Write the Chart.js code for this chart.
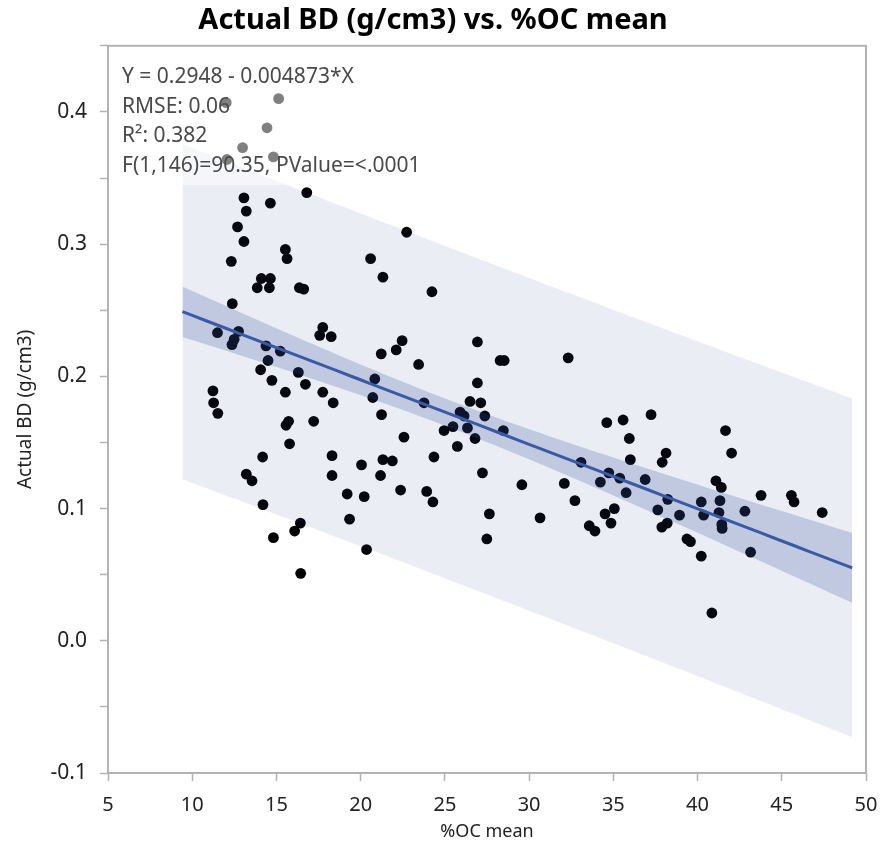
<!DOCTYPE html>
<html>
<head>
<meta charset="utf-8">
<script src="https://cdn.jsdelivr.net/npm/chart.js@4.4.0/dist/chart.umd.min.js"></script>
<style>
  html, body { margin: 0; padding: 0; background: #fff; }
</style>
</head>
<body>
<canvas id="myChart" width="881" height="850"></canvas>
<script>
// %OC mean (x) and actual bulk density (y)
const ocMean = [
  12.02, 15.13, 14.44, 12.99, 12.06, 14.82,
  13.07, 14.64, 16.80, 13.21, 12.69, 22.73, 13.07, 12.32, 15.53, 15.63,
  14.10, 14.64, 13.86, 14.58, 16.36, 16.62, 12.38, 11.50, 12.75, 12.36,
  12.49, 17.75, 17.57, 18.25, 14.38, 15.23, 14.50, 14.06, 14.73, 15.53,
  16.30, 16.72, 17.75, 18.37, 11.23, 11.27, 11.52, 15.72, 15.57, 17.21,
  15.78, 14.18, 18.30, 18.30, 13.21, 13.55, 14.20, 16.42, 16.08, 14.82,
  16.44, 20.59, 21.32, 24.23, 22.46, 22.11, 21.22, 23.44, 20.84, 20.72,
  21.24, 23.76, 25.90, 26.49, 22.57, 24.95, 25.48, 25.74, 26.34, 20.05,
  21.32, 21.88, 21.18, 24.35, 19.20, 20.21, 22.37, 23.92, 24.29, 19.34,
  20.35, 26.93, 28.28, 28.52, 32.32, 26.93, 27.13, 27.37, 26.79, 28.47,
  27.23, 29.57, 32.09, 32.72, 33.08, 27.64, 30.65, 27.49, 33.57, 33.91,
  34.51, 35.06, 34.86, 34.23, 34.73, 35.38, 35.76, 34.61, 35.58, 35.95,
  36.01, 37.24, 38.13, 37.90, 36.89, 38.23, 37.64, 38.93, 38.20, 37.88,
  39.37, 39.58, 40.22, 40.85, 41.66, 42.02, 41.09, 41.41, 40.22, 40.36,
  41.33, 41.27, 41.44, 41.46, 42.81, 43.15, 43.77, 45.57, 45.73, 47.40,
  26.14
];
const actualBD = [
  0.407, 0.410, 0.388, 0.373, 0.364, 0.366,
  0.335, 0.331, 0.339, 0.325, 0.313, 0.309, 0.302, 0.287, 0.296, 0.289,
  0.274, 0.274, 0.267, 0.267, 0.267, 0.266, 0.255, 0.233, 0.234, 0.224,
  0.228, 0.237, 0.231, 0.230, 0.223, 0.219, 0.212, 0.205, 0.197, 0.188,
  0.203, 0.194, 0.188, 0.180, 0.189, 0.180, 0.172, 0.166, 0.163, 0.166,
  0.149, 0.139, 0.140, 0.125, 0.126, 0.121, 0.103, 0.089, 0.083, 0.078,
  0.051, 0.289, 0.275, 0.264, 0.227, 0.220, 0.217, 0.209, 0.198, 0.184,
  0.171, 0.180, 0.173, 0.181, 0.154, 0.159, 0.162, 0.147, 0.161, 0.133,
  0.137, 0.136, 0.125, 0.139, 0.111, 0.109, 0.114, 0.113, 0.105, 0.092,
  0.069, 0.226, 0.212, 0.212, 0.214, 0.195, 0.180, 0.170, 0.153, 0.159,
  0.127, 0.118, 0.119, 0.106, 0.135, 0.096, 0.093, 0.077, 0.087, 0.083,
  0.096, 0.100, 0.089, 0.120, 0.127, 0.123, 0.112, 0.165, 0.167, 0.153,
  0.137, 0.171, 0.142, 0.135, 0.122, 0.107, 0.099, 0.095, 0.089, 0.086,
  0.077, 0.075, 0.064, 0.021, 0.159, 0.142, 0.121, 0.116, 0.105, 0.095,
  0.106, 0.097, 0.088, 0.085, 0.098, 0.067, 0.110, 0.110, 0.105, 0.097,
  0.170
];

// fit shown in the picture
const fitIntercept = 0.2948;
const fitSlope = -0.004873;
const statLines = [
  'Y = 0.2948 - 0.004873*X',
  'RMSE: 0.06',
  'R\u00b2: 0.382',
  'F(1,146)=90.35, PValue=<.0001'
];
// band settings (t * rmse, mean of x, Sxx, n)
const bandFrom = 9.42;
const bandTo = 49.18;
const tRmse = 0.1253;
const xMean = 25.2;
const sxx = 15200;
const nObs = 148;

const points = ocMean.map((x, i) => ({ x: x, y: actualBD[i] }));

let fitLine = [], ciUp = [], ciLo = [], piUp = [], piLo = [];
for (let k = 0; k <= 60; k++) {
  let x = bandFrom + (bandTo - bandFrom) * k / 60;
  let y = fitIntercept + fitSlope * x;
  let h = 1 / nObs + (x - xMean) * (x - xMean) / sxx;
  let ci = tRmse * Math.sqrt(h);
  let pi = tRmse * Math.sqrt(1 + h);
  fitLine.push({ x: x, y: y });
  ciUp.push({ x: x, y: y + ci });
  ciLo.push({ x: x, y: y - ci });
  piUp.push({ x: x, y: y + pi });
  piLo.push({ x: x, y: y - pi });
}

const fontFam = "'Noto Sans', 'DejaVu Sans', sans-serif";

const framePlugin = {
  id: 'frame',
  afterDatasetsDraw(chart) {
    const ctx = chart.ctx;
    // statistics box, half transparent white over the points
    ctx.save();
    ctx.fillStyle = 'rgba(255,255,255,0.5)';
    ctx.fillRect(115, 58, 318, 127);
    ctx.fillStyle = '#4a4a4a';
    ctx.font = '21px ' + fontFam;
    ctx.textBaseline = 'middle';
    ctx.textAlign = 'left';
    for (let i = 0; i < statLines.length; i++) {
      ctx.fillText(statLines[i], 122, 77 + i * 29.7);
    }
    ctx.restore();
  },
  afterDraw(chart) {
    const a = chart.chartArea;
    const ctx = chart.ctx;
    ctx.save();
    ctx.strokeStyle = '#b3b3b3';
    ctx.lineWidth = 2;
    ctx.strokeRect(a.left, a.top, a.right - a.left, a.bottom - a.top);
    ctx.restore();
  }
};

const ctx = document.getElementById('myChart');
new Chart(ctx, {
  type: 'scatter',
  data: {
    datasets: [
      {
        label: 'Actual BD',
        data: points,
        backgroundColor: '#000',
        borderWidth: 0,
        pointRadius: 5.4,
        order: 5
      },
      {
        type: 'line',
        data: piUp,
        borderWidth: 0,
        pointRadius: 0,
        fill: '+1',
        backgroundColor: 'rgba(45,75,152,0.1)',
        order: 4
      },
      {
        type: 'line',
        data: piLo,
        borderWidth: 0,
        pointRadius: 0,
        fill: false,
        order: 4
      },
      {
        type: 'line',
        data: ciUp,
        borderWidth: 0,
        pointRadius: 0,
        fill: '+1',
        backgroundColor: 'rgba(45,75,152,0.22)',
        order: 2
      },
      {
        type: 'line',
        data: ciLo,
        borderWidth: 0,
        pointRadius: 0,
        fill: false,
        order: 2
      },
      {
        type: 'line',
        data: fitLine,
        borderColor: '#3a5aa6',
        borderWidth: 3,
        pointRadius: 0,
        fill: false,
        order: 0
      }
    ]
  },
  options: {
    responsive: false,
    animation: false,
    devicePixelRatio: 1,
    layout: { padding: { left: 0, right: 15, top: 0, bottom: 0 } },
    plugins: {
      legend: { display: false },
      tooltip: { enabled: false },
      title: {
        display: true,
        text: 'Actual BD (g/cm3) vs. %OC mean',
        color: '#000',
        font: { family: fontFam, size: 29, weight: 'bold', lineHeight: 1.2 },
        padding: { top: 3, bottom: 8 }
      }
    },
    scales: {
      x: {
        type: 'linear',
        min: 5,
        max: 50,
        ticks: {
          stepSize: 5,
          color: '#222',
          padding: 12,
          font: { family: fontFam, size: 20 }
        },
        grid: {
          drawOnChartArea: false,
          drawTicks: true,
          tickLength: 8,
          tickColor: '#b3b3b3',
          tickWidth: 1.5
        },
        border: { display: false },
        title: {
          display: true,
          text: '%OC mean',
          color: '#222',
          font: { family: fontFam, size: 18 },
          padding: { top: 0, bottom: 7 }
        },
        afterFit(scale) {
          scale.height = 77;
          scale.paddingLeft = 0;
          scale.paddingRight = 0;
        }
      },
      y: {
        type: 'linear',
        min: -0.1,
        max: 0.45,
        ticks: {
          stepSize: 0.05,
          color: '#222',
          padding: 13,
          font: { family: fontFam, size: 21 },
          callback: function (value) {
            let v = Math.round(value * 100) / 100;
            if (Math.abs(v * 10 - Math.round(v * 10)) > 1e-6) return '';
            if (Math.abs(v) < 1e-9) return '0.0';
            return v.toFixed(1);
          }
        },
        grid: {
          drawOnChartArea: false,
          drawTicks: true,
          tickLength: 8,
          tickColor: '#b3b3b3',
          tickWidth: 1.5
        },
        border: { display: false },
        title: {
          display: true,
          text: 'Actual BD (g/cm3)',
          color: '#222',
          font: { family: fontFam, size: 19 },
          padding: { top: 14, bottom: 0 }
        },
        afterFit(scale) {
          scale.width = 108;
          scale.paddingTop = 0;
          scale.paddingBottom = 0;
        }
      }
    }
  },
  plugins: [framePlugin]
});
</script>
</body>
</html>
